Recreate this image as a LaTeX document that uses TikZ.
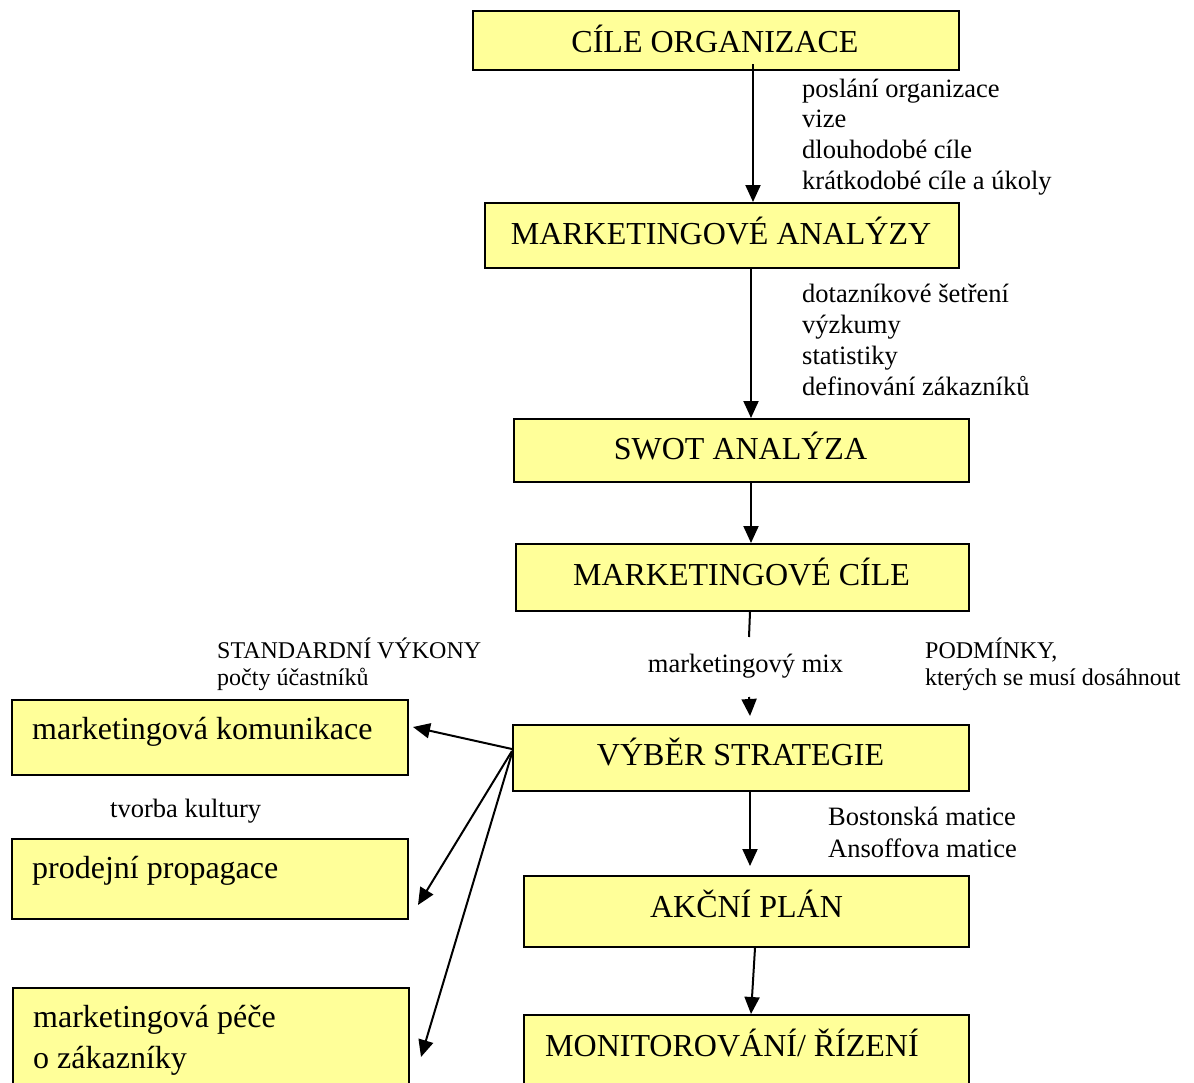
\documentclass[tikz,border=0pt]{standalone}
\usepackage{fontspec}
\setmainfont{Liberation Serif}
\usetikzlibrary{arrows.meta,calc}
\definecolor{boxyellow}{HTML}{FFFF99}
\begin{document}
\begin{tikzpicture}[x=1pt,y=-1pt,
  stage/.style={draw=black, fill=boxyellow, line width=2pt, inner sep=0pt, anchor=north west},
  boxtext/.style={font=\fontsize{32}{38}\selectfont, inner sep=0pt, anchor=base},
  boxtextl/.style={font=\fontsize{32}{38}\selectfont, inner sep=0pt, anchor=base west},
  note/.style={font=\fontsize{26.5}{30.7}\selectfont, inner sep=0pt, anchor=base west},
  smallnote/.style={font=\fontsize{24}{28}\selectfont, inner sep=0pt, anchor=base west},
  link/.style={line width=2pt, -{Triangle[length=17pt,width=15pt]}},
  plainlink/.style={line width=2pt}]

\useasboundingbox (0,0) rectangle (1194,1082);
\clip (0,0) rectangle (1194,1082);

% main column of stages
\node[stage, minimum width=486pt, minimum height=59pt] (co)   at (472,10)  {};
\node[stage, minimum width=474pt, minimum height=65pt] (ma)   at (484,202) {};
\node[stage, minimum width=455pt, minimum height=63pt] (swot) at (513,418) {};
\node[stage, minimum width=453pt, minimum height=67pt] (mc)   at (515,543) {};
\node[stage, minimum width=456pt, minimum height=66pt] (vs)   at (512,724) {};
\node[stage, minimum width=445pt, minimum height=71pt] (akc)  at (523,875) {};
\node[stage, minimum width=445pt, minimum height=80pt] (mon)  at (523,1014) {};

% communication tools on the left
\node[stage, minimum width=396pt, minimum height=75pt]  (kom)  at (11,699) {};
\node[stage, minimum width=396pt, minimum height=80pt]  (prod) at (11,838) {};
\node[stage, minimum width=396pt, minimum height=110pt] (pece) at (12,987) {};

% stage titles
\node[boxtext] (tco)   at (715,52)    {CÍLE ORGANIZACE};
\node[boxtext] (tma)   at (721,244)   {MARKETINGOVÉ ANALÝZY};
\node[boxtext] (tswot) at (740.5,459) {SWOT ANALÝZA};
\node[boxtext] (tmc)   at (741.5,585) {MARKETINGOVÉ CÍLE};
\node[boxtext] (tvs)   at (740.5,765) {VÝBĚR STRATEGIE};
\node[boxtext] (takc)  at (746.5,917) {AKČNÍ PLÁN};
\node[boxtextl] (tmon) at (545,1056)  {MONITOROVÁNÍ/ ŘÍZENÍ};
\node[boxtextl] (tkom) at (32,739)    {marketingová komunikace};
\node[boxtextl] (tprod) at (32,878)   {prodejní propagace};
\node[boxtextl] (tpecea) at (33,1027) {marketingová péče};
\node[boxtextl] (tpeceb) at (33,1068) {o zákazníky};

% side notes
\node[note] (n1a) at (802,97)    {poslání organizace};
\node[note] (n1b) at (802,127.5) {vize};
\node[note] (n1c) at (802,158)   {dlouhodobé cíle};
\node[note] (n1d) at (802,189)   {krátkodobé cíle a úkoly};

\node[note] (n2a) at (802,302) {dotazníkové šetření};
\node[note] (n2b) at (802,333) {výzkumy};
\node[note] (n2c) at (802,364) {statistiky};
\node[note] (n2d) at (802,395) {definování zákazníků};

\node[smallnote] (n3a) at (217,658) {STANDARDNÍ VÝKONY};
\node[smallnote] (n3b) at (217,685) {počty účastníků};
\node[smallnote] (n4a) at (925,658) {PODMÍNKY,};
\node[smallnote] (n4b) at (925,685) {kterých se musí dosáhnout};

\node[note, anchor=base] (mix) at (745.5,672) {marketingový mix};
\node[note] (kult) at (110,817) {tvorba kultury};

\node[note] (n5a) at (828,825) {Bostonská matice};
\node[note] (n5b) at (828,857) {Ansoffova matice};

% connectors
\coordinate (mixin)  at (749,637);
\coordinate (mixout) at (749,697);

\draw[link] ([xshift=37pt,yshift=7pt]co.south) -- ([xshift=31pt]ma.north);
\draw[link] ([xshift=29pt]ma.south) -- ([xshift=9.5pt]swot.north);
\draw[link] ([xshift=9.5pt]swot.south) -- ([xshift=8.5pt]mc.north);
\draw[plainlink] ([xshift=7.5pt]mc.south) -- (mixin);
\draw[link] (mixout) -- ([xshift=9pt,yshift=8pt]vs.north);
\draw[link] ([xshift=9pt]vs.south) -- ([xshift=3.5pt,yshift=9pt]akc.north);
\draw[link] ([xshift=8.5pt]akc.south) -- ([xshift=4.5pt]mon.north);

\draw[link] ([yshift=9pt]vs.west) -- ([xshift=4pt,yshift=10.5pt]kom.east);
\draw[link] ([yshift=7pt]vs.west) -- ([xshift=9pt,yshift=-26pt]prod.east);
\draw[link] ([yshift=5pt]vs.west) -- ([xshift=11pt,yshift=-14pt]pece.east);
\end{tikzpicture}
\end{document}
